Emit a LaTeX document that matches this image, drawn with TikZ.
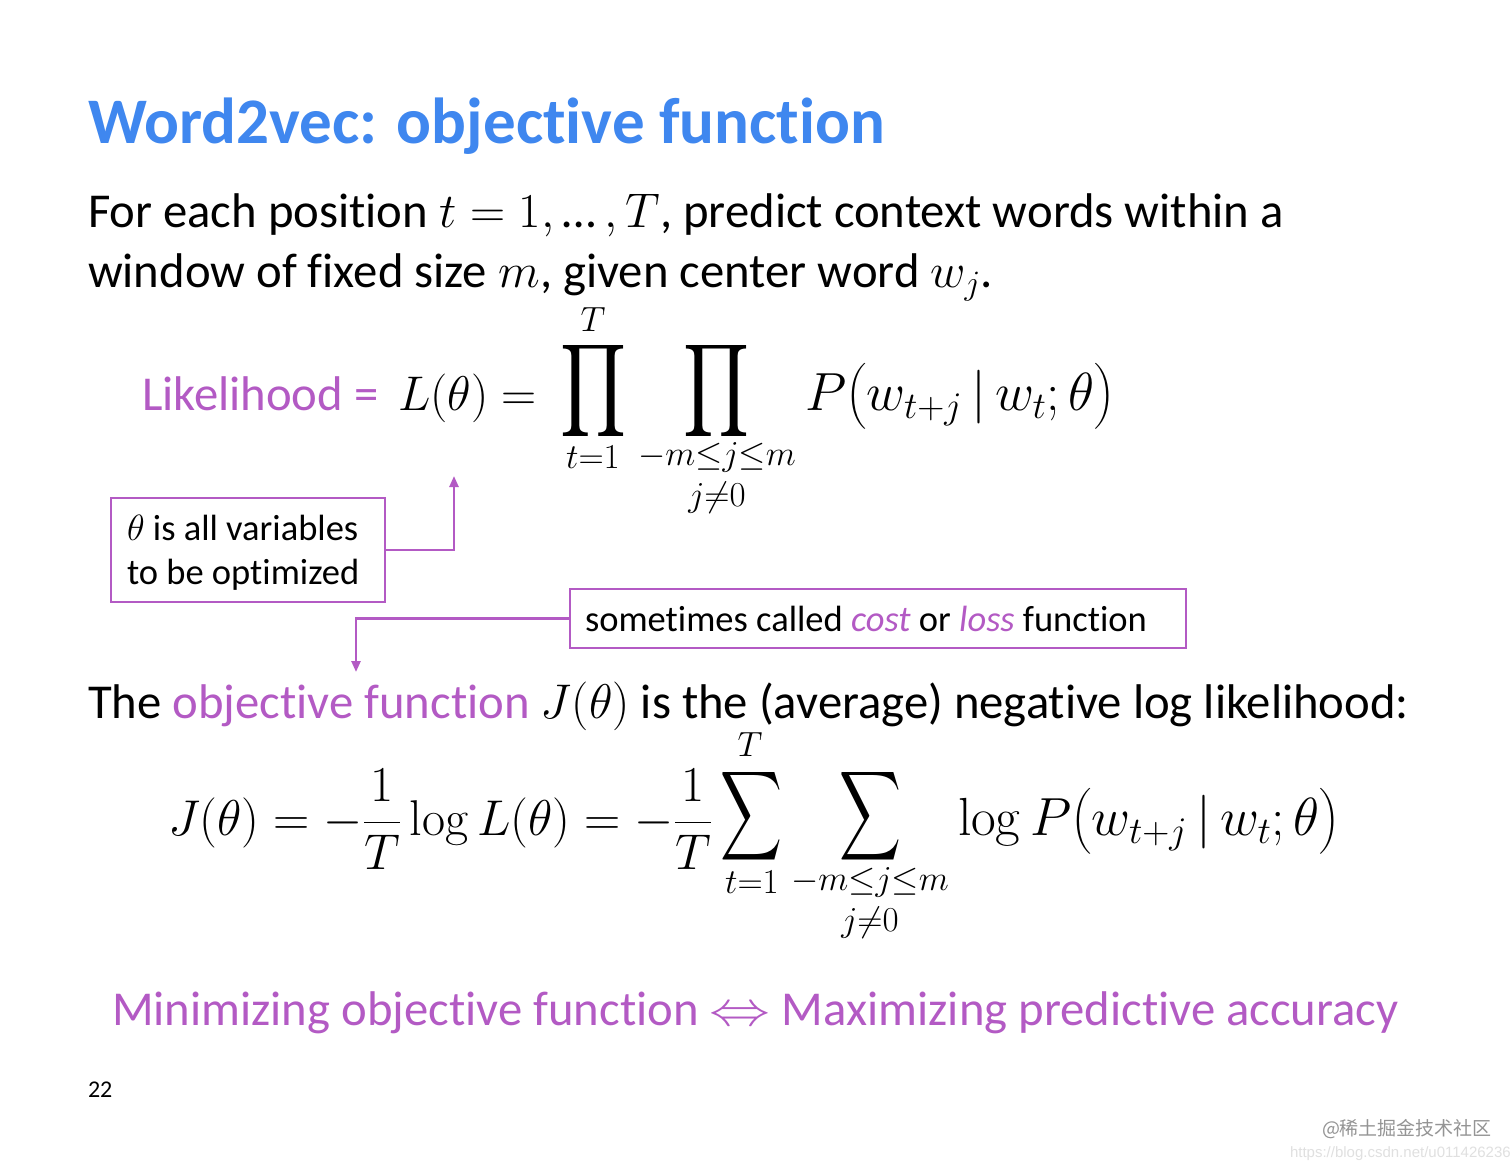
\RequirePackage{fix-cm}
\documentclass[tikz,border=0pt]{standalone}
\usepackage{amsmath,graphicx}
\usepackage[no-math]{fontspec}
\setmainfont{Carlito}[Ligatures=NoCommon]
\newfontfamily\cjk{Noto Sans CJK SC}
\newfontfamily\arialf{Liberation Sans}
\usetikzlibrary{arrows.meta}
\definecolor{titleblue}{HTML}{3F87EF}
\definecolor{purp}{HTML}{B35AC4}
\newcommand{\titlefnt}{\fontsize{65}{78}\selectfont\bfseries}
\newcommand{\bodyfnt}{\fontsize{48.7}{58}\selectfont}
\newcommand{\limfnt}{\fontsize{35}{42}\selectfont}
\newcommand{\boxfnt}{\fontsize{36.5}{44}\selectfont}
\begin{document}
\begin{tikzpicture}[x=1pt,y=-1pt,
  every node/.style={inner sep=0pt,outer sep=0pt},
  callout/.style={draw=purp,line width=2.6pt},
  arr/.style={draw=purp,line width=2.4pt,-{Triangle[length=11pt,width=9pt]}},
  bigop/.style={}]
\fill[white] (0,0) rectangle (1512,1168);
\useasboundingbox (0,0) rectangle (1512,1168);
% title and intro
\node[anchor=base west,text=titleblue,font=\titlefnt] (title) at (88,143) {Word2vec: objective function};
\node[anchor=base west,font=\bodyfnt] (l1) at (88,227) {For each position $t = 1, \text{…}\,, T$, predict context words within a};
\node[anchor=base west,font=\bodyfnt] (l2) at (88,287) {window of fixed size $m$, given center word $w_j$.};
% likelihood
\node[anchor=base west,font=\bodyfnt,text=purp] (lik) at (142,410) {Likelihood =};
\node[anchor=base west,font=\bodyfnt] (Lth) at (398,410) {$L(\theta) =$};
\node[bigop] (p1) at (594,391) {\resizebox*{66pt}{104pt}{$\displaystyle\prod$}};
\node[font=\limfnt] (p1T) at (593,320) {$T$};
\node[font=\limfnt] (p1b) at (593,457) {$t{=}1$};
\node[bigop] (p2) at (717,391) {\resizebox*{66pt}{104pt}{$\displaystyle\prod$}};
\node[font=\limfnt] (p2b) at (717,457) {$-m{\le}j{\le}m$};
\node[font=\limfnt] (p2c) at (717,498) {$j{\ne}0$};
\node[anchor=base west,font=\bodyfnt] (P1) at (805,410) {\resizebox{310pt}{!}{$P\bigl(w_{t+j}\,|\,w_t;\theta\bigr)$}};
% callouts
\node[callout,anchor=north west,minimum width=274pt,minimum height=104pt] (b1) at (111,498) {};
\node[anchor=base west,font=\boxfnt] (b1t1) at (127,540) {$\theta$ is all variables};
\node[anchor=base west,font=\boxfnt] (b1t2) at (127,584) {to be optimized};
\coordinate (a1) at (454,476);
\draw[arr] (b1.east) -| (a1);
\node[callout,anchor=north west,minimum width=616pt,minimum height=59pt] (b2) at (570,589) {};
\node[anchor=base west,font=\boxfnt] (b2t) at (585,631)
  {sometimes called \textcolor{purp}{\itshape cost} or \textcolor{purp}{\itshape loss} function};
\coordinate (a2) at (356,672);
\draw[arr] (b2.west) -| (a2);
% objective
\node[anchor=base west,font=\bodyfnt] (l3) at (88,718) {The \textcolor{purp}{objective function} $J(\theta)$ is the (average) negative log likelihood:};
\node[anchor=base west,font=\bodyfnt] (J1) at (168,835) {\resizebox{544pt}{!}{$J(\theta) = -\dfrac{1}{T}\log L(\theta) = -\dfrac{1}{T}$}};
\node[bigop] (s1) at (751,816) {\resizebox*{62pt}{100pt}{$\displaystyle\sum$}};
\node[font=\limfnt] (s1T) at (750,745) {$T$};
\node[font=\limfnt] (s1b) at (752,882) {$t{=}1$};
\node[bigop] (s2) at (870,816) {\resizebox*{62pt}{100pt}{$\displaystyle\sum$}};
\node[font=\limfnt] (s2b) at (870,882) {$-m{\le}j{\le}m$};
\node[font=\limfnt] (s2c) at (870,923) {$j{\ne}0$};
\node[anchor=base west,font=\bodyfnt] (P2) at (958,835) {\resizebox{382pt}{!}{$\log P\bigl(w_{t+j}\,|\,w_t;\theta\bigr)$}};
% conclusion
\node[anchor=base west,font=\bodyfnt,text=purp] (bot) at (112,1025) {Minimizing objective function \scalebox{1.25}[1]{$\Leftrightarrow$} Maximizing predictive accuracy};
\node[anchor=base west,font=\fontsize{24}{28}\selectfont] (pg) at (88,1097) {22};
% watermark
\node[anchor=base west,font=\cjk\fontsize{19}{22}\selectfont,text=black!42] (wm) at (1322,1135) {@稀土掘金技术社区};
\node[anchor=base west,font=\arialf\fontsize{15}{18}\selectfont,text=black!12] (url) at (1290,1157) {https://blog.csdn.net/u011426236};
\end{tikzpicture}
\end{document}
